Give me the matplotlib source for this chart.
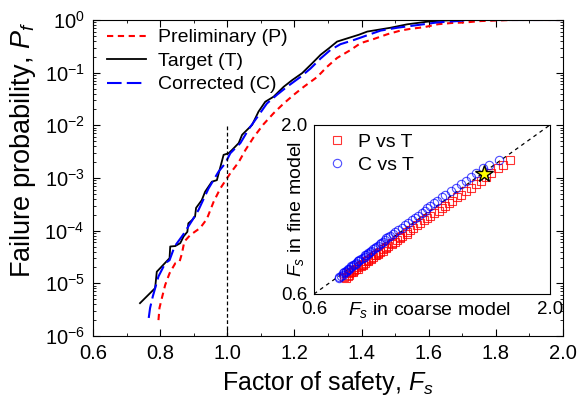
import matplotlib
matplotlib.use("Agg")
import matplotlib.pyplot as plt

plt.rcParams["font.family"] = ["Liberation Sans", "DejaVu Sans"]
plt.rcParams["mathtext.fontset"] = "custom"
plt.rcParams["mathtext.rm"] = "Liberation Sans"
plt.rcParams["mathtext.it"] = "Liberation Sans:italic"
plt.rcParams["mathtext.default"] = "regular"
plt.rcParams["axes.unicode_minus"] = False

# failure probability curves (main plot)
fs_target = [0.740, 0.785, 0.790, 0.828, 0.830, 0.845, 0.860, 0.870, 0.881, 0.884,
             0.895, 0.904, 0.907, 0.924, 0.934, 0.954, 0.969, 0.989, 1.004, 1.014,
             1.034, 1.044, 1.074, 1.093, 1.113, 1.138, 1.168, 1.193, 1.223, 1.253,
             1.278, 1.302, 1.327, 1.357, 1.392, 1.417, 1.487, 1.536, 1.596, 1.636,
             1.690, 2.000]
pf_target = [4.2e-6, 8.1e-6, 1.66e-5, 3.0e-5, 5.0e-5, 5.1e-5, 5.8e-5, 7.8e-5, 9.5e-5, 1.38e-4,
             1.58e-4, 1.86e-4, 2.7e-4, 3.8e-4, 5.5e-4, 8.5e-4, 9.1e-4, 2.75e-3, 2.95e-3, 3.4e-3,
             4.6e-3, 6.6e-3, 1.02e-2, 1.82e-2, 2.8e-2, 3.5e-2, 5.4e-2, 7.2e-2, 9.8e-2, 0.151,
             0.219, 0.288, 0.389, 0.447, 0.525, 0.603, 0.714, 0.828, 0.929, 0.97,
             1.0, 1.0]

fs_corr = [0.766, 0.770, 0.778, 0.795, 0.815, 0.828, 0.843, 0.868, 0.893, 0.914,
           0.944, 0.974, 0.994, 1.009, 1.039, 1.065, 1.090, 1.118, 1.148, 1.178,
           1.218, 1.248, 1.278, 1.307, 1.337, 1.377, 1.412, 1.457, 1.507, 1.566,
           1.626, 1.686, 1.720, 2.000]
pf_corr = [2.2e-6, 3.4e-6, 5.6e-6, 1.35e-5, 2.4e-5, 2.75e-5, 5.0e-5, 8.3e-5, 1.48e-4, 2.45e-4,
           6.3e-4, 1.32e-3, 1.9e-3, 2.95e-3, 4.6e-3, 8.7e-3, 1.45e-2, 2.6e-2, 3.8e-2, 5.4e-2,
           8.3e-2, 0.12, 0.186, 0.269, 0.347, 0.417, 0.50, 0.63, 0.714, 0.80,
           0.90, 0.955, 1.0, 1.0]

fs_prelim = [0.795, 0.798, 0.805, 0.815, 0.828, 0.845, 0.858, 0.865, 0.872, 0.890,
             0.919, 0.939, 0.959, 0.979, 1.009, 1.034, 1.054, 1.079, 1.108, 1.138,
             1.168, 1.198, 1.228, 1.268, 1.297, 1.327, 1.367, 1.397, 1.437, 1.477,
             1.516, 1.546, 1.586, 1.627, 1.666, 1.710, 1.755, 1.806, 1.850, 2.000]
pf_prelim = [2.0e-6, 3.4e-6, 5.2e-6, 9.3e-6, 1.55e-5, 2.4e-5, 2.6e-5, 3.7e-5, 6.2e-5, 8.3e-5,
             1.12e-4, 1.66e-4, 3.5e-4, 6.3e-4, 1.23e-3, 2.0e-3, 3.4e-3, 6.0e-3, 1.05e-2, 1.7e-2,
             2.6e-2, 3.8e-2, 5.4e-2, 8.3e-2, 0.129, 0.19, 0.269, 0.363, 0.437, 0.537,
             0.63, 0.68, 0.73, 0.83, 0.875, 0.90, 0.955, 0.98, 1.0, 1.0]

# inset scatter: Fs in fine model vs Fs in coarse model
fs_fine = [0.73, 0.74, 0.75, 0.76, 0.77, 0.78, 0.78, 0.79, 0.80, 0.81,
           0.81, 0.82, 0.83, 0.84, 0.84, 0.85, 0.86, 0.87, 0.87, 0.88,
           0.89, 0.90, 0.91, 0.92, 0.92, 0.93, 0.94, 0.95, 0.96, 0.97,
           0.98, 0.99, 1.00, 1.01, 1.02, 1.03, 1.05, 1.06, 1.07, 1.08,
           1.10, 1.11, 1.13, 1.15, 1.17, 1.19, 1.21, 1.23, 1.25, 1.27,
           1.29, 1.31, 1.33, 1.35, 1.37, 1.40, 1.42, 1.45, 1.48, 1.51,
           1.54, 1.57, 1.60, 1.64, 1.67, 1.71]
fs_coarse_p = [0.79, 0.78, 0.80, 0.81, 0.81, 0.82, 0.83, 0.83, 0.84, 0.86,
               0.85, 0.86, 0.88, 0.88, 0.89, 0.89, 0.90, 0.92, 0.91, 0.92,
               0.94, 0.94, 0.95, 0.97, 0.96, 0.98, 0.98, 0.99, 1.01, 1.01,
               1.03, 1.03, 1.04, 1.06, 1.06, 1.08, 1.09, 1.11, 1.11, 1.12,
               1.15, 1.15, 1.17, 1.19, 1.21, 1.23, 1.25, 1.27, 1.29, 1.31,
               1.34, 1.36, 1.38, 1.40, 1.42, 1.45, 1.47, 1.50, 1.53, 1.56,
               1.59, 1.62, 1.65, 1.69, 1.72, 1.76]
fs_coarse_c = [0.75, 0.75, 0.76, 0.77, 0.77, 0.78, 0.79, 0.79, 0.80, 0.81,
               0.80, 0.82, 0.82, 0.84, 0.83, 0.85, 0.85, 0.86, 0.86, 0.87,
               0.88, 0.89, 0.90, 0.90, 0.91, 0.92, 0.92, 0.93, 0.94, 0.95,
               0.96, 0.97, 0.98, 0.99, 1.00, 1.01, 1.02, 1.03, 1.04, 1.05,
               1.07, 1.08, 1.10, 1.12, 1.14, 1.16, 1.18, 1.20, 1.22, 1.24,
               1.26, 1.27, 1.29, 1.31, 1.33, 1.36, 1.38, 1.41, 1.44, 1.47,
               1.50, 1.53, 1.56, 1.60, 1.64, 1.70]
star_xy = (1.61, 1.59)


def main():
    fig = plt.figure(figsize=(5.86, 4.03), dpi=100)
    ax = fig.add_axes([0.1587, 0.1663, 0.8021, 0.7841])

    ax.plot(fs_prelim, pf_prelim, color="red", lw=1.5, ls=(0, (3, 2.2)), label="Preliminary (P)")
    ax.plot(fs_target, pf_target, color="black", lw=1.3, label="Target (T)")
    ax.plot(fs_corr, pf_corr, color="blue", lw=1.5, ls=(0, (7, 2.5)), label="Corrected (C)")
    ax.plot([1.0, 1.0], [1e-6, 1e-2], color="black", lw=0.9, ls=(0, (3, 2)))

    ax.set_yscale("log")
    ax.set_xlim(0.6, 2.0)
    ax.set_ylim(1e-6, 1)
    ax.set_xticks([0.6, 0.8, 1.0, 1.2, 1.4, 1.6, 1.8, 2.0])
    ax.set_xticks([0.7, 0.9, 1.1, 1.3, 1.5, 1.7, 1.9], minor=True)
    ax.set_yticks([1e-6, 1e-5, 1e-4, 1e-3, 1e-2, 1e-1, 1])
    ax.tick_params(which="both", direction="in", top=True, right=True, labelsize=14.5, pad=6)
    ax.tick_params(which="major", length=5)
    ax.tick_params(which="minor", length=2.5)
    ax.set_xlabel("Factor of safety, $\\mathit{F_s}$", fontsize=18)
    ax.set_ylabel("Failure probability, $\\mathit{P_f}$", fontsize=19.5)
    ax.xaxis.set_label_coords(0.5, -0.105)
    ax.yaxis.set_label_coords(-0.117, 0.59)
    ax.legend(loc="upper left", frameon=False, fontsize=14, handlelength=2.05,
              handletextpad=0.6, labelspacing=0.3, borderaxespad=0.3,
              bbox_to_anchor=(0.0, 1.015))

    # inset
    axi = fig.add_axes([0.5358, 0.2705, 0.4027, 0.4194])
    axi.plot([0.6, 2.0], [0.6, 2.0], color="black", lw=0.9, ls=(0, (3, 3)))
    axi.plot(fs_coarse_p, fs_fine, ls="none", marker="s", ms=5.5, mfc="none",
             mec="red", mew=0.8, alpha=0.8, label="P vs T")
    axi.plot(fs_coarse_c, fs_fine, ls="none", marker="o", ms=6, mfc="none",
             mec="blue", mew=0.8, alpha=0.7, label="C vs T")
    axi.plot(*star_xy, marker="*", ms=13, mfc="yellow", mec="black", mew=1.0)
    axi.set_xlim(0.6, 2.0)
    axi.set_ylim(0.6, 2.0)
    axi.set_xticks([0.6, 2.0])
    axi.set_yticks([0.6, 2.0])
    axi.tick_params(length=0, labelsize=13.5, pad=5)
    axi.set_xlabel("$\\mathit{F_s}$ in coarse model", fontsize=14)
    axi.set_ylabel("$\\mathit{F_s}$ in fine model", fontsize=14)
    axi.xaxis.set_label_coords(0.49, -0.035)
    axi.yaxis.set_label_coords(-0.035, 0.5)
    axi.legend(loc="upper left", frameon=False, fontsize=14, handlelength=1.0,
               handletextpad=0.57, labelspacing=0.25, borderaxespad=0.3,
               bbox_to_anchor=(0.0, 1.03))

    fig.savefig("out.png", dpi=100)


if __name__ == "__main__":
    main()
